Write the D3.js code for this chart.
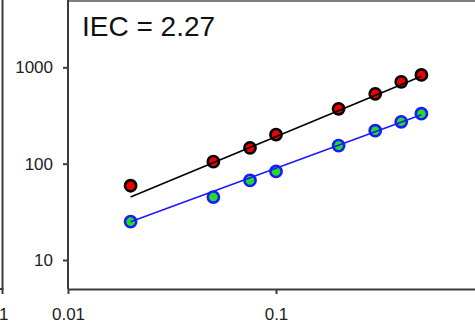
<!DOCTYPE html>
<html>
<head>
<meta charset="utf-8">
<script src="https://cdn.jsdelivr.net/npm/d3@7"></script>
<style>
  html, body { margin: 0; padding: 0; background: #fff; }
  svg { display: block; }
</style>
</head>
<body>
<svg id="chart" width="475" height="326"></svg>
<script>
// ---- data ----
const xValues = [0.02, 0.05, 0.075, 0.1, 0.2, 0.3, 0.4, 0.5];
const redValues = [59, 105, 146, 200, 371, 531, 707, 834];
const greenValues = [25, 45, 67, 83, 154, 220, 272, 330];
const fitX = [0.02, 0.5];
const fitRed = [45, 810];
const fitBlue = [25, 322];
const xTicks = [0.01, 0.1];
const xTickLabels = ["0.01", "0.1"];
const yTicks = [10, 100, 1000];
const yTickLabels = ["10", "100", "1000"];
const neighbourTickLabel = "1";
const annotation = "IEC = 2.27";

// ---- layout ----
(function () {
const svg = d3.select("#chart");
const mLeft = 68, mBottom = 289, mTop = 0, mRight = 484;
const font = "'Liberation Sans', Arial, sans-serif";
const axisColor = "#3c3c3c";

const x = d3.scaleLog().domain([0.01, 1]).range([mLeft, mRight]);
const y = d3.scaleLog().domain([5, 5000]).range([mBottom, mTop]);

// remnant of the neighbouring panel on the left
svg.append("line").attr("x1", 2.5).attr("x2", 2.5).attr("y1", 0).attr("y2", mBottom)
  .attr("stroke", axisColor).attr("stroke-width", 2);
svg.append("line").attr("x1", -5).attr("x2", 3.5).attr("y1", mBottom).attr("y2", mBottom)
  .attr("stroke", axisColor).attr("stroke-width", 2);
svg.append("line").attr("x1", 2.5).attr("x2", 2.5).attr("y1", mBottom).attr("y2", mBottom + 5)
  .attr("stroke", axisColor).attr("stroke-width", 2);
svg.append("text").attr("x", -1).attr("y", 320).attr("text-anchor", "start")
  .attr("font-family", font).attr("font-size", 17).attr("fill", "#222").text(neighbourTickLabel);

// top frame line
svg.append("line").attr("x1", mLeft).attr("x2", 475).attr("y1", 1).attr("y2", 1)
  .attr("stroke", "#808080").attr("stroke-width", 2);

// axes
const xAxis = d3.axisBottom(x).tickValues(xTicks)
  .tickFormat((d, i) => xTickLabels[i]).tickSize(5).tickSizeOuter(0).tickPadding(14);
const gx = svg.append("g").attr("transform", `translate(0,${mBottom})`).call(xAxis);

const yAxis = d3.axisLeft(y).tickValues(yTicks)
  .tickFormat((d, i) => yTickLabels[i]).tickSize(5).tickSizeOuter(0).tickPadding(10);
const gy = svg.append("g").attr("transform", `translate(${mLeft},0)`).call(yAxis);

[gx, gy].forEach(g => {
  g.select(".domain").attr("stroke", axisColor).attr("stroke-width", 2);
  g.selectAll(".tick line").attr("stroke", axisColor).attr("stroke-width", 2);
  g.selectAll(".tick text").attr("font-family", font).attr("font-size", 17).attr("fill", "#222");
});
gy.select(".domain").attr("d", `M0,${mTop}V${mBottom}`);

// markers
const r = 5.6;
svg.append("g").selectAll("circle").data(xValues).join("circle")
  .attr("cx", d => x(d)).attr("cy", (d, i) => y(redValues[i])).attr("r", r)
  .attr("fill", "#ee0000").attr("stroke", "#000").attr("stroke-width", 2.6);
svg.append("g").selectAll("circle").data(xValues).join("circle")
  .attr("cx", d => x(d)).attr("cy", (d, i) => y(greenValues[i])).attr("r", r)
  .attr("fill", "#22dd22").attr("stroke", "#1a1aff").attr("stroke-width", 2.6);

// fit lines
const fitLine = d3.line().x(d => x(d[0])).y(d => y(d[1]));
svg.append("path").datum(fitX.map((v, i) => [v, fitRed[i]]))
  .attr("d", fitLine).attr("fill", "none").attr("stroke", "#000").attr("stroke-width", 1.6);
svg.append("path").datum(fitX.map((v, i) => [v, fitBlue[i]]))
  .attr("d", fitLine).attr("fill", "none").attr("stroke", "#1a1aff").attr("stroke-width", 1.6);

// annotation
svg.append("text").attr("x", 82).attr("y", 36)
  .attr("font-family", font).attr("font-size", 28).attr("fill", "#111").text(annotation);
})();
</script>
</body>
</html>
